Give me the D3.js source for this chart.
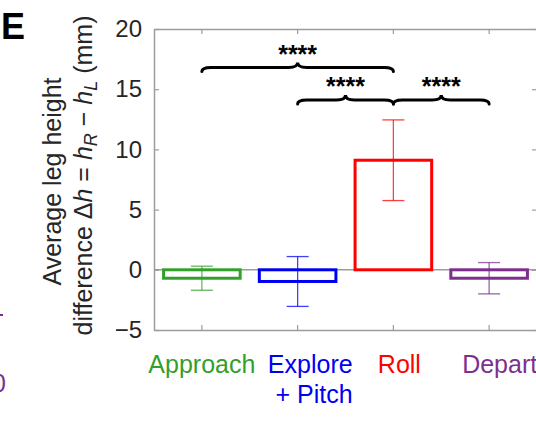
<!DOCTYPE html>
<html>
<head>
<meta charset="utf-8">
<script src="https://cdn.jsdelivr.net/npm/d3@7"></script>
<style>
  body { margin: 0; background: #fff; }
  svg { display: block; font-family: Arial, "Liberation Sans", sans-serif; }
</style>
</head>
<body>
<div id="chart"></div>
<script>
// Bar data (mm)
const categories = ["Approach", "Explore\n+ Pitch", "Roll", "Departure"];
const means = [-0.7, -0.97, 9.1, -0.7];
const errors = [1.0, 2.07, 3.35, 1.3];
const barColors = ["#33a02a", "#0000f0", "#ff0000", "#7e2f8e"];
const yTicks = [-5, 0, 5, 10, 15, 20];

// Significance brackets
const compFrom = [0, 1, 2];
const compTo = [2, 2, 3];
const compLevel = [16.8, 14.1, 14.1];
const compLabel = ["****", "****", "****"];

const width = 536, height = 434;
const margin = { top: 29, right: -1, bottom: 104, left: 154 };

const svg = d3.select("#chart")
  .append("svg")
  .attr("width", width)
  .attr("height", height);

const x = d3.scaleBand()
  .domain(categories)
  .range([margin.left, width - margin.right])
  .paddingInner(0.2)
  .paddingOuter(0.1);

const y = d3.scaleLinear()
  .domain([-5, 20])
  .range([height - margin.bottom, margin.top]);

const cx = i => x(categories[i]) + x.bandwidth() / 2;
const axisColor = "#9c9c9c";
const textColor = "#262626";

// zero line
svg.append("line")
  .attr("x1", margin.left).attr("x2", width - margin.right)
  .attr("y1", y(0)).attr("y2", y(0))
  .attr("stroke", axisColor).attr("stroke-width", 1.5);

// axes (ticks pointing inward, like the box around a matlab plot)
function styleAxis(g) {
  g.select(".domain").attr("stroke", axisColor).attr("stroke-width", 1.5);
  g.selectAll(".tick line").attr("stroke", axisColor).attr("stroke-width", 1.2);
  g.selectAll(".tick text").attr("fill", textColor).style("font-size", "24px");
}

svg.append("g")
  .attr("transform", `translate(${margin.left},0)`)
  .call(d3.axisLeft(y).tickValues(yTicks).tickSizeInner(-5).tickSizeOuter(0).tickPadding(12)
    .tickFormat(d => d < 0 ? "\u2212" + Math.abs(d) : d))
  .call(styleAxis);

svg.append("g")
  .attr("transform", `translate(${width - margin.right},0)`)
  .call(d3.axisRight(y).tickValues(yTicks).tickSizeInner(-5).tickSizeOuter(0).tickFormat(""))
  .call(styleAxis);

const xTicks = d3.axisBottom(x).tickSizeInner(-5).tickSizeOuter(0).tickFormat("");
svg.append("g")
  .attr("transform", `translate(0,${y(-5)})`)
  .call(xTicks)
  .call(styleAxis);

svg.append("g")
  .attr("transform", `translate(0,${y(20)})`)
  .call(d3.axisTop(x).tickSizeInner(-5).tickSizeOuter(0).tickFormat(""))
  .call(styleAxis);

// bars
svg.selectAll("rect.bar")
  .data(means)
  .join("rect")
  .attr("class", "bar")
  .attr("x", (d, i) => x(categories[i]))
  .attr("width", x.bandwidth())
  .attr("y", d => y(Math.max(d, 0)))
  .attr("height", d => Math.abs(y(d) - y(0)))
  .attr("fill", "none")
  .attr("stroke", (d, i) => barColors[i])
  .attr("stroke-width", 3);

// error bars
const capHalf = 11;
const err = svg.append("g")
  .selectAll("g")
  .data(means)
  .join("g")
  .attr("stroke", (d, i) => barColors[i])
  .attr("stroke-opacity", 0.75)
  .attr("stroke-width", 1.3);

err.append("line")
  .attr("x1", (d, i) => cx(i)).attr("x2", (d, i) => cx(i))
  .attr("y1", (d, i) => y(d + errors[i])).attr("y2", (d, i) => y(d - errors[i]));
err.append("line")
  .attr("x1", (d, i) => cx(i) - capHalf).attr("x2", (d, i) => cx(i) + capHalf)
  .attr("y1", (d, i) => y(d + errors[i])).attr("y2", (d, i) => y(d + errors[i]));
err.append("line")
  .attr("x1", (d, i) => cx(i) - capHalf).attr("x2", (d, i) => cx(i) + capHalf)
  .attr("y1", (d, i) => y(d - errors[i])).attr("y2", (d, i) => y(d - errors[i]));

// curly braces with stars
function bracePath(x1, x2, y0) {
  const xm = (x1 + x2) / 2, r = 9, drop = 4, tip = 5;
  const p = d3.path();
  p.moveTo(x1, y0 + drop);
  p.quadraticCurveTo(x1, y0, x1 + r, y0);
  p.lineTo(xm - r, y0);
  p.quadraticCurveTo(xm, y0, xm, y0 - tip);
  p.quadraticCurveTo(xm, y0, xm + r, y0);
  p.lineTo(x2 - r, y0);
  p.quadraticCurveTo(x2, y0, x2, y0 + drop);
  return p.toString();
}

compFrom.forEach((f, k) => {
  const x1 = cx(f), x2 = cx(compTo[k]), y0 = y(compLevel[k]);
  svg.append("path")
    .attr("d", bracePath(x1, x2, y0))
    .attr("fill", "none")
    .attr("stroke", "#000")
    .attr("stroke-width", 3)
    .attr("stroke-linecap", "round");
  svg.append("text")
    .attr("x", (x1 + x2) / 2)
    .attr("y", y0 - 5)
    .attr("text-anchor", "middle")
    .attr("font-weight", "bold")
    .style("font-size", "25px")
    .text(compLabel[k]);
});

// category labels (placed under each bar, a little off-centre as in the figure)
const labelShift = [0, 55, 6, -27];
const labelAnchor = ["middle", "end", "middle", "start"];
categories.forEach((c, i) => {
  const t = svg.append("text")
    .attr("text-anchor", labelAnchor[i])
    .attr("fill", barColors[i])
    .style("font-size", "25px");
  c.split("\n").forEach((line, j) => {
    t.append("tspan")
      .attr("x", cx(i) + labelShift[i])
      .attr("y", 373 + j * 30)
      .text(line);
  });
});

// y label
const yl = svg.append("g")
  .attr("transform", `translate(0,${(y(20) + y(-5)) / 2}) rotate(-90)`)
  .attr("fill", textColor)
  .style("font-size", "25px")
  .attr("text-anchor", "middle");

yl.append("text").attr("x", -2).attr("y", 61).text("Average leg height");

const l2 = yl.append("text").attr("x", 4).attr("y", 92);
l2.append("tspan").text("difference \u0394");
l2.append("tspan").attr("font-style", "italic").text("h");
l2.append("tspan").text(" = ");
l2.append("tspan").attr("font-style", "italic").text("h");
l2.append("tspan").attr("font-style", "italic").attr("baseline-shift", "-25%").style("font-size", "18px").text("R");
l2.append("tspan").attr("baseline-shift", "0%").text(" \u2212 ");
l2.append("tspan").attr("font-style", "italic").text("h");
l2.append("tspan").attr("font-style", "italic").attr("baseline-shift", "-25%").style("font-size", "18px").text("L");
l2.append("tspan").text(" (mm)");

// panel letter
svg.append("text")
  .attr("x", 1).attr("y", 39)
  .attr("font-weight", "bold")
  .style("font-size", "36px")
  .text("E");

// cut-off piece of neighbouring panel at the left edge
svg.append("text")
  .attr("x", -8).attr("y", 392)
  .attr("fill", "#7e2f8e")
  .style("font-size", "25px")
  .text("0");
svg.append("line")
  .attr("x1", 0).attr("x2", 3)
  .attr("y1", 315).attr("y2", 315)
  .attr("stroke", "#7e2f8e").attr("stroke-width", 2);
</script>
</body>
</html>
